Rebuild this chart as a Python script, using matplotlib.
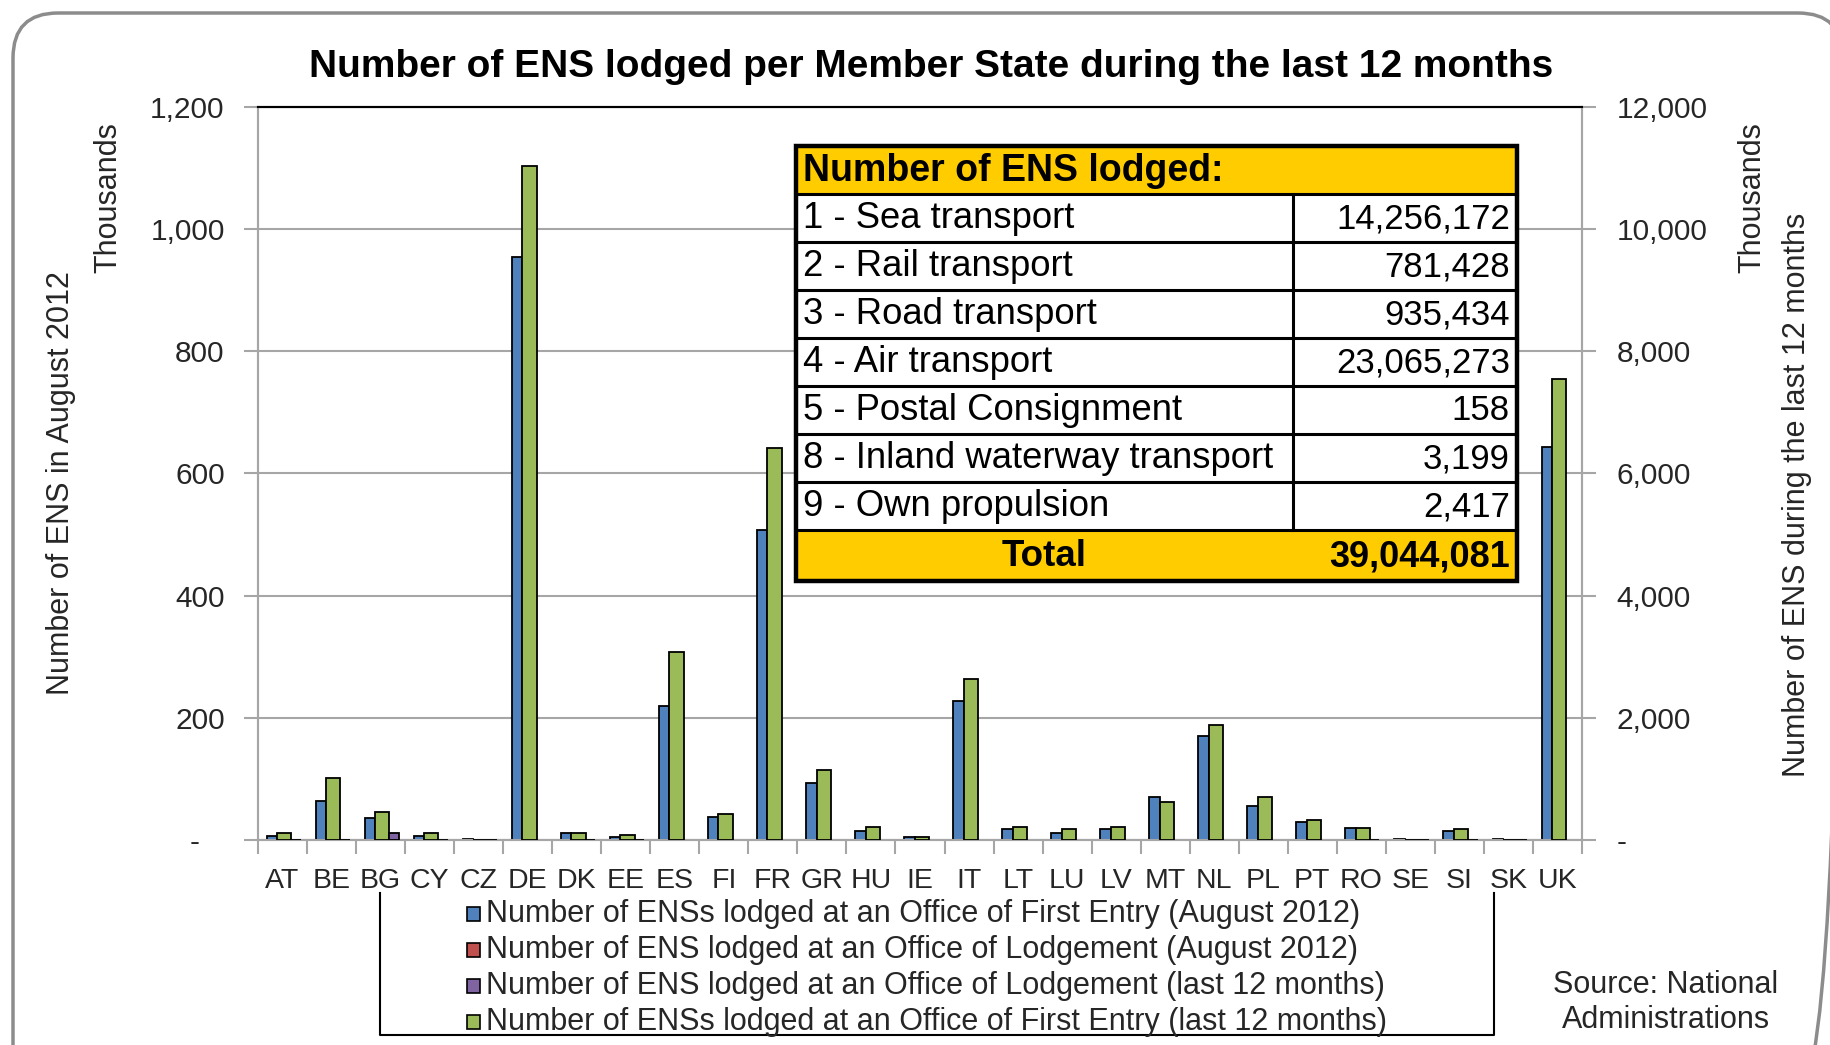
import matplotlib
matplotlib.use('Agg')
import matplotlib.pyplot as plt
import numpy as np
from matplotlib import font_manager
from matplotlib.patches import Rectangle, FancyBboxPatch
from matplotlib.ticker import FuncFormatter

# pick an Arial-like family
names = {f.name for f in font_manager.fontManager.ttflist}
FONT = 'Liberation Sans' if 'Liberation Sans' in names else 'DejaVu Sans'
plt.rcParams['font.family'] = [FONT, 'DejaVu Sans']

countries = ['AT', 'BE', 'BG', 'CY', 'CZ', 'DE', 'DK', 'EE', 'ES', 'FI', 'FR', 'GR', 'HU', 'IE',
             'IT', 'LT', 'LU', 'LV', 'MT', 'NL', 'PL', 'PT', 'RO', 'SE', 'SI', 'SK', 'UK']

# thousands of ENS, August 2012 (left axis)
first_entry_aug = [7, 64, 36, 7, 1, 955, 11, 4.5, 220, 37, 508, 93, 15, 4.5,
                   227, 17.5, 11, 17.5, 70, 170, 56, 30, 20, 1, 15, 1, 643]
lodgement_aug = [0] * 27

# thousands of ENS, last 12 months (right axis)
nan = np.nan
lodgement_12m = [0, 0, 110, 0, 0, nan, 0, 0, nan, nan, nan, nan, nan, nan,
                 nan, nan, nan, nan, nan, nan, nan, nan, 0, 0, 0, 0, nan]
first_entry_12m = [115, 1020, 460, 115, 8, 11030, 110, 77, 3080, 430, 6420, 1146, 207, 44,
                   2640, 207, 175, 207, 620, 1890, 704, 327, 200, 8, 175, 8, 7540]

series_labels = ['Number of ENSs lodged at an Office of First Entry (August 2012)',
                 'Number of ENS lodged at an Office of Lodgement (August 2012)',
                 'Number of ENS lodged at an Office of Lodgement (last 12 months)',
                 'Number of ENSs lodged at an Office of First Entry (last 12 months)']
series_colors = ['#4F81BD', '#C0504D', '#8064A2', '#9BBB59']

table_labels = ['1 - Sea transport', '2 - Rail transport', '3 - Road transport', '4 - Air transport',
                '5 - Postal Consignment', '8 - Inland waterway transport', '9 - Own propulsion']
table_values = [14256172, 781428, 935434, 23065273, 158, 3199, 2417]
table_total = sum(table_values)

GRID = '#A6A6A6'
TXT = '#262626'

fig = plt.figure(figsize=(18.3, 10.45), dpi=100)
fig.patch.set_facecolor('white')
ax = fig.add_axes([258 / 1830, 1 - 840 / 1045, (1582 - 258) / 1830, (840 - 107) / 1045])
ax2 = ax.twinx()

x = np.arange(len(countries))


def bars(axis, values, left, width, color):
    v = np.asarray(values, dtype=float)
    ok = ~np.isnan(v)
    return axis.bar(x[ok] + left, v[ok], width, align='edge', color=color,
                    edgecolor='black', linewidth=1.3, zorder=3)


bars(ax, first_entry_aug, 0.175, 0.215, series_colors[0])
bars(ax, lodgement_aug, 0.39, 0.215, series_colors[1])
bars(ax2, first_entry_12m, 0.39, 0.29, series_colors[3])
bars(ax2, lodgement_12m, 0.68, 0.19, series_colors[2])

ax.set_xlim(0, len(countries))
ax.set_ylim(0, 1200)
ax2.set_ylim(0, 12000)
ax.set_yticks(range(0, 1201, 200))
ax2.set_yticks(range(0, 12001, 2000))
ax.yaxis.set_major_formatter(FuncFormatter(lambda v, p: '-   ' if v == 0 else f'{v:,.0f}'))
ax2.yaxis.set_major_formatter(FuncFormatter(lambda v, p: '-' if v == 0 else f'{v:,.0f}'))
ax.yaxis.grid(True, color=GRID, linewidth=1.5)
ax.set_axisbelow(True)

ax.set_xticks(np.arange(0, len(countries) + 1))
ax.set_xticklabels([])
ax.set_xticks(x + 0.5, minor=True)
ax.set_xticklabels(countries, minor=True)
ax.tick_params(axis='x', which='major', length=10, width=1.5, color=GRID)
ax.tick_params(axis='x', which='minor', length=0, pad=20, labelsize=20.5, labelcolor=TXT)
ax.tick_params(axis='y', length=10, width=1.5, color=GRID, pad=14, labelsize=21.5, labelcolor=TXT)
ax2.tick_params(axis='y', length=10, width=1.5, color=GRID, pad=15, labelsize=21.5, labelcolor=TXT)

for a in (ax, ax2):
    for s in ('left', 'right', 'bottom'):
        a.spines[s].set_color(GRID)
        a.spines[s].set_linewidth(1.5)
    a.spines['top'].set_color('black')
    a.spines['top'].set_linewidth(1.5)

# overlay in pixel coordinates for the annotations
ov = fig.add_axes([0, 0, 1, 1], zorder=10)
ov.set_xlim(0, 1830)
ov.set_ylim(1045, 0)
ov.axis('off')

ov.add_patch(FancyBboxPatch((13, 13), 1830, 1080, boxstyle='round,pad=0,rounding_size=45',
                            facecolor='none', edgecolor='#8C8C8C', linewidth=2.5))

ov.text(931, 67, 'Number of ENS lodged per Member State during the last 12 months',
        ha='center', va='center', fontsize=28, fontweight='bold', color='black')

ov.text(61, 483, 'Number of ENS in August 2012', rotation=90, ha='center', va='center',
        fontsize=22, color=TXT)
ov.text(108, 198, 'Thousands', rotation=90, ha='center', va='center', fontsize=22, color=TXT)
ov.text(1752, 198, 'Thousands', rotation=90, ha='center', va='center', fontsize=22, color=TXT)
ov.text(1797, 495, 'Number of ENS during the last 12 months', rotation=90, ha='center',
        va='center', fontsize=22, color=TXT)

# summary table
tl, tr, cdiv = 796, 1517, 1293
rows = [146 + 48 * i for i in range(10)]
rows[-1] = 581
YEL = '#FFCC00'
ov.add_patch(Rectangle((tl, rows[0]), tr - tl, rows[1] - rows[0], facecolor=YEL, edgecolor='none'))
ov.add_patch(Rectangle((tl, rows[8]), tr - tl, rows[9] - rows[8], facecolor=YEL, edgecolor='none'))
ov.add_patch(Rectangle((tl, rows[1]), tr - tl, rows[8] - rows[1], facecolor='white', edgecolor='none'))
for r in rows[1:9]:
    ov.plot([tl, tr], [r, r], color='black', linewidth=2.2)
ov.plot([cdiv, cdiv], [rows[1], rows[8]], color='black', linewidth=2.2)
ov.add_patch(Rectangle((tl, rows[0]), tr - tl, rows[9] - rows[0], facecolor='none',
                       edgecolor='black', linewidth=3.2))
ov.text(tl + 7, (rows[0] + rows[1]) / 2 + 1, 'Number of ENS lodged:', ha='left', va='center',
        fontsize=27, fontweight='bold')
for i, (lab, val) in enumerate(zip(table_labels, table_values)):
    yc = (rows[i + 1] + rows[i + 2]) / 2 + 1
    ov.text(tl + 7, yc, lab, ha='left', va='center', fontsize=26.3)
    ov.text(tr - 7, yc, f'{val:,}', ha='right', va='center', fontsize=25)
yc = (rows[8] + rows[9]) / 2 + 1
ov.text((tl + cdiv) / 2, yc, 'Total', ha='center', va='center', fontsize=26.5, fontweight='bold')
ov.text(tr - 7, yc, f'{table_total:,}', ha='right', va='center', fontsize=26, fontweight='bold')

# legend
lx0, lx1, ly0, ly1 = 380, 1494, 893, 1035
ov.plot([lx0, lx0, lx1, lx1], [ly0, ly1, ly1, ly0], color='black', linewidth=1.5)
for i, (lab, col) in enumerate(zip(series_labels, series_colors)):
    yc = 914 + 36 * i
    ov.add_patch(Rectangle((467, yc - 7), 13, 14, facecolor=col, edgecolor='black', linewidth=1.2))
    ov.text(486, yc, lab, ha='left', va='center', fontsize=22, color=TXT)

ov.text(1666, 985, 'Source: National', ha='center', va='center', fontsize=22, color=TXT)
ov.text(1666, 1020, 'Administrations', ha='center', va='center', fontsize=22, color=TXT)

fig.savefig('out.png', dpi=100)
